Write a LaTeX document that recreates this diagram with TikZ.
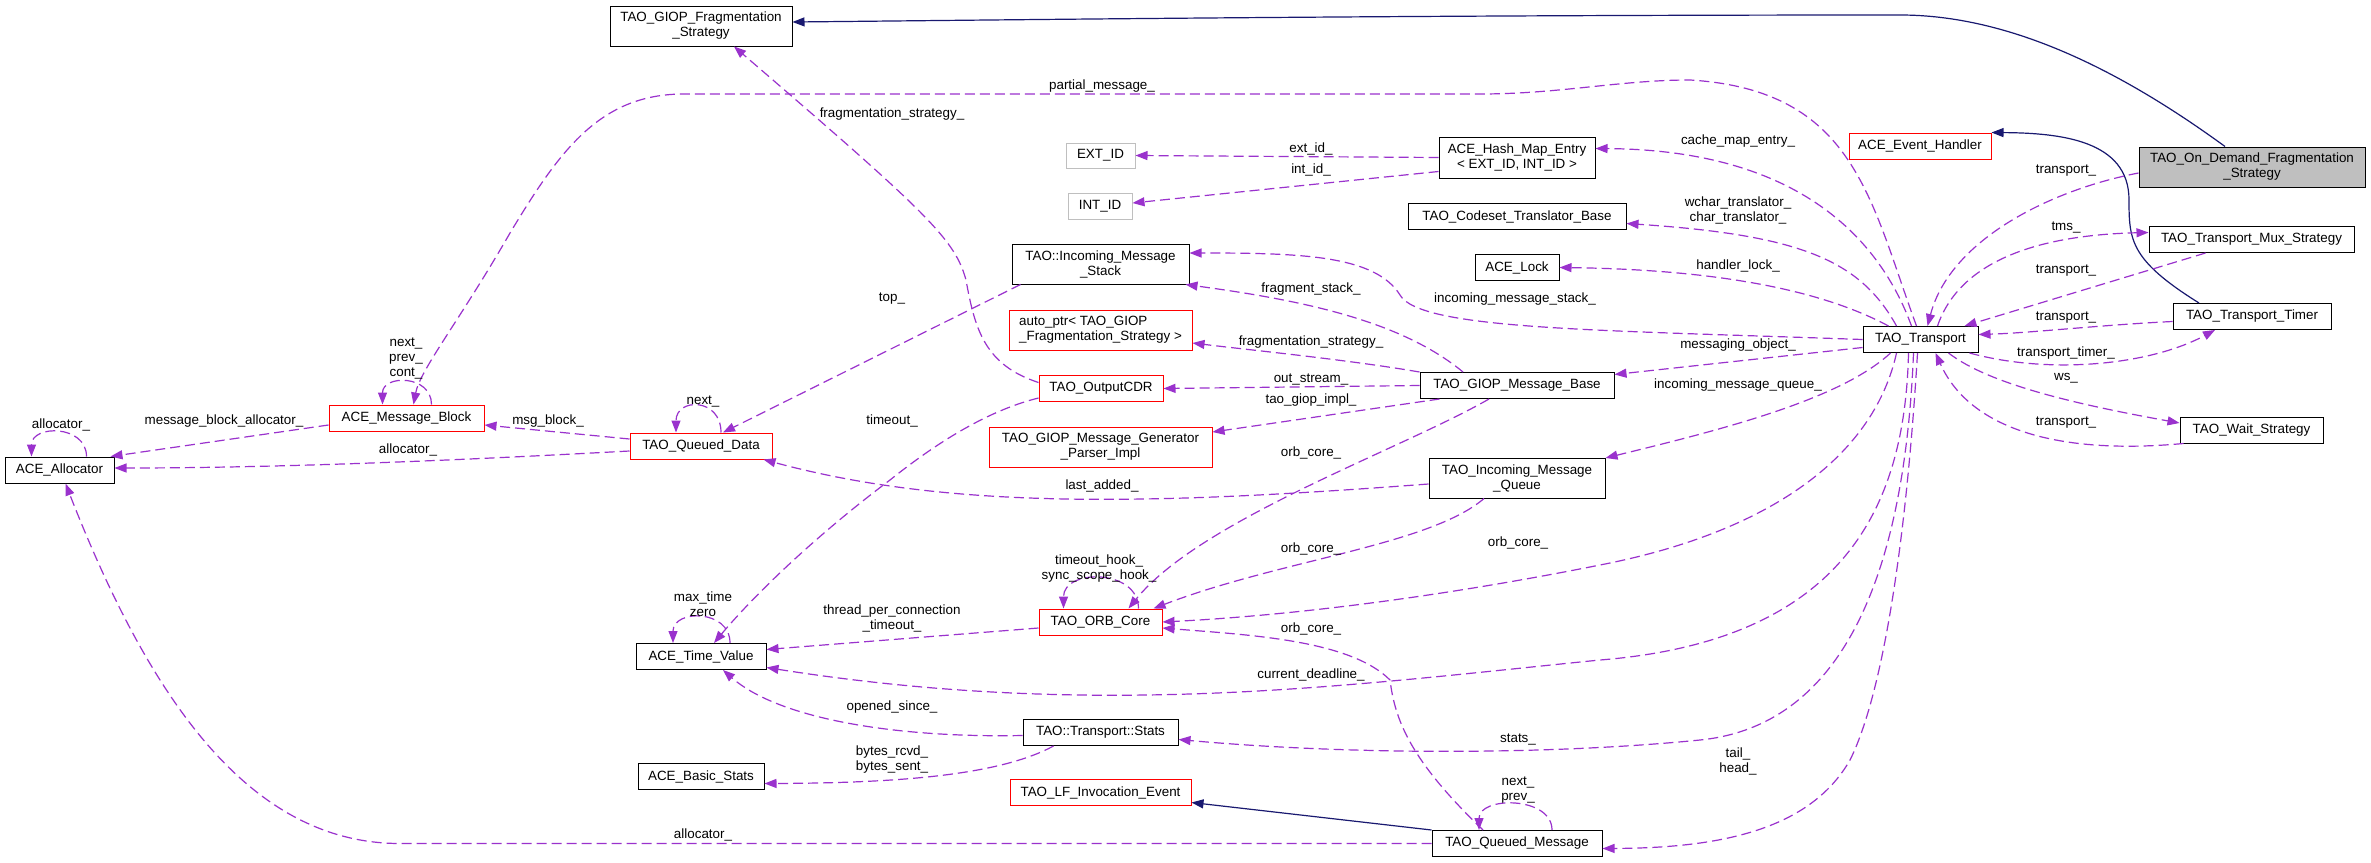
\documentclass[tikz,border=0pt]{standalone}
\usepackage{fontspec}
\setmainfont{Liberation Sans}
\usetikzlibrary{arrows.meta}

\definecolor{usecol}{HTML}{9A32CD}
\definecolor{inhcol}{HTML}{191970}
\newcommand\dxfont{\fontsize{13.4pt}{15pt}\selectfont}

\tikzset{
  cls/.style={draw=black, fill=white, line width=1pt, font=\dxfont, align=center,
    inner sep=0pt, minimum height=26pt},
  redcls/.style={cls, draw=red},
  extcls/.style={cls, draw=gray!50},
  maincls/.style={cls, fill=gray!50},
  dep/.style={draw=usecol, line width=1.2pt, dash pattern=on 10pt off 5pt,
    -{Triangle[length=12pt,width=9pt]}},
  inh/.style={draw=inhcol, line width=1.2pt, -{Triangle[length=12pt,width=9pt]}},
  lbl/.style={font=\dxfont, align=center, inner sep=0pt},
}

\begin{document}
\begin{tikzpicture}[x=1pt, y=-1pt]
    \path[use as bounding box, fill=white] (0,0) rectangle (2371,862);

    % classes
    \node[cls, minimum width=182pt, minimum height=40pt] (gfs) at (701,26) {TAO\_GIOP\_Fragmentation\\\_Strategy};
    \node[maincls, minimum width=226pt, minimum height=40pt] (odfs) at (2252,167) {TAO\_On\_Demand\_Fragmentation\\\_Strategy};
    \node[redcls, minimum width=142pt] (aeh) at (1920,146) {ACE\_Event\_Handler};
    \node[extcls, minimum width=69pt, minimum height=25pt] (extid) at (1100.5,155.5) {EXT\_ID};
    \node[extcls, minimum width=64pt] (intid) at (1100,206) {INT\_ID};
    \node[cls, minimum width=156pt, minimum height=41pt] (hme) at (1517,157.5) {ACE\_Hash\_Map\_Entry\\< EXT\_ID, INT\_ID >};
    \node[cls, minimum width=218pt] (ctb) at (1517,216.5) {TAO\_Codeset\_Translator\_Base};
    \node[cls, minimum width=84pt] (lock) at (1517,267.5) {ACE\_Lock};
    \node[cls, minimum width=177pt, minimum height=40pt] (ims) at (1100.5,264) {TAO::Incoming\_Message\\\_Stack};
    \node[redcls, minimum width=183pt, minimum height=40pt, align=left] (aptr) at (1100.5,330) {auto\_ptr< TAO\_GIOP\\\_Fragmentation\_Strategy >};
    \node[redcls, minimum width=124pt] (ocdr) at (1101,388.5) {TAO\_OutputCDR};
    \node[redcls, minimum width=223pt, minimum height=40pt] (gmgp) at (1100.5,447) {TAO\_GIOP\_Message\_Generator\\\_Parser\_Impl};
    \node[cls, minimum width=194pt] (gmb) at (1517,385.5) {TAO\_GIOP\_Message\_Base};
    \node[cls, minimum width=176pt, minimum height=40pt] (imq) at (1517,478) {TAO\_Incoming\_Message\\\_Queue};
    \node[cls, minimum width=115pt] (trans) at (1920.5,339.5) {TAO\_Transport};
    \node[cls, minimum width=205pt] (tms) at (2251.5,239.5) {TAO\_Transport\_Mux\_Strategy};
    \node[cls, minimum width=158pt] (ttimer) at (2252,316.5) {TAO\_Transport\_Timer};
    \node[cls, minimum width=143pt] (tws) at (2251.5,430) {TAO\_Wait\_Strategy};
    \node[redcls, minimum width=155pt] (amb) at (406.5,418) {ACE\_Message\_Block};
    \node[redcls, minimum width=142pt] (tqd) at (701,446) {TAO\_Queued\_Data};
    \node[cls, minimum width=109pt] (alloc) at (59.5,470) {ACE\_Allocator};
    \node[cls, minimum width=130pt] (atv) at (701,656.5) {ACE\_Time\_Value};
    \node[cls, minimum width=126pt] (basic) at (701,776.5) {ACE\_Basic\_Stats};
    \node[redcls, minimum width=123pt] (orb) at (1100.5,622) {TAO\_ORB\_Core};
    \node[cls, minimum width=155pt] (tstats) at (1100.5,732.5) {TAO::Transport::Stats};
    \node[redcls, minimum width=181pt] (lfie) at (1100.5,792.5) {TAO\_LF\_Invocation\_Event};
    \node[cls, minimum width=170pt] (tqm) at (1517,843.5) {TAO\_Queued\_Message};

    % inheritance
    \draw[inh] ([xshift=-27pt]odfs.north) .. controls (2120,70) and (2010,15) .. (1900,15)
        .. controls (1400,15) and (1000,20) .. ([yshift=4pt]gfs.east);
    \draw[inh] ([xshift=-53pt]ttimer.north) .. controls (2130,260) and (2129,240) .. (2129,200)
        .. controls (2129,140) and (2060,133) .. (aeh.north east);
    \draw[inh] (tqm.north west) -- ([yshift=-10pt]lfie.east);

    % usage, left part
    \draw[dep] ([xshift=-4pt]trans.north) .. controls (1870,200) and (1855,90) .. (1690,80)
        .. controls (1620,80) and (1560,94) .. (1480,94) -- (684,94)
        .. controls (600,94) and (560,150) .. (510,233)
        .. controls (460,320) and (420,370) .. ([xshift=7pt]amb.north);
    \draw[dep] ([yshift=6pt]ocdr.west) .. controls (985,365) and (975,330) .. (966,280)
        .. controls (955,240) and (930,215) .. ([xshift=33pt]gfs.south);
    \draw[dep] (hme.west) -- (extid.east);
    \draw[dep] ([yshift=-14pt]hme.west) -- ([yshift=3pt]intid.east);
    \draw[dep] ([xshift=9pt]ims.south west) -- ([xshift=22pt]tqd.north);
    \draw[dep] ([xshift=20pt]tqd.north) .. controls +(0,-35) and +(0,-35) .. ([xshift=-25pt]tqd.north);
    \draw[dep] ([xshift=25pt]amb.north) .. controls +(0,-30) and +(0,-30) .. ([xshift=-24pt]amb.north);
    \draw[dep] ([xshift=27pt]alloc.north) .. controls +(0,-32) and +(0,-32) .. ([xshift=-28pt]alloc.north);
    \draw[dep] ([yshift=-7pt]amb.west) -- ([xshift=-4pt]alloc.north east);
    \draw[dep] ([yshift=7pt]tqd.west) -- ([yshift=-7pt]amb.east);
    \draw[dep] ([yshift=-5pt]tqd.west) .. controls (500,458) and (300,468) .. ([yshift=2pt]alloc.east);
    \draw[dep] ([yshift=-6pt]imq.west) .. controls (1150,505) and (950,510) .. ([xshift=-9pt]tqd.south east);
    \draw[dep] ([yshift=4pt]ocdr.south west) .. controls (990,410) and (940,440) .. (890,480)
        .. controls (810,540) and (750,600) .. ([xshift=13pt]atv.north);
    \draw[dep] ([xshift=29pt]atv.north) .. controls +(0,-34) and +(0,-34) .. ([xshift=-28pt]atv.north);
    \draw[dep] ([yshift=-6pt]orb.west) -- ([yshift=7pt]atv.east);
    \draw[dep] ([yshift=-3pt]tstats.west) .. controls (900,738) and (780,720) .. ([xshift=22pt]atv.south);
    \draw[dep] ([xshift=-47pt]tstats.south) .. controls (1000,775) and (900,783) .. ([yshift=-7pt]basic.east);
    \draw[dep] ([xshift=38pt]orb.north) .. controls +(0,-40) and +(0,-40) .. ([xshift=-37pt]orb.north);
    \draw[dep] ([xshift=-28pt]gmb.south) .. controls (1400,450) and (1200,520) .. ([xshift=28pt]orb.north);
    \draw[dep] ([xshift=-33pt]imq.south) .. controls (1430,545) and (1280,560) .. ([xshift=-9pt]orb.north east);
    \draw[dep] ([xshift=-34pt]tqm.north) .. controls (1410,760) and (1395,720) .. (1390,680)
        .. controls (1350,640) and (1250,635) .. ([yshift=-6pt]orb.east);
    \draw[dep] (tqm.west) -- (400,843.5) .. controls (250,843.5) and (150,700) .. ([xshift=6pt]alloc.south);
    \draw[dep] ([xshift=35pt]tqm.north) .. controls +(0,-34) and +(0,-34) .. ([xshift=-38pt]tqm.north);

    % usage, from TAO_Transport
    \draw[dep] ([xshift=-9pt]trans.north) .. controls (1880,240) and (1800,150) .. ([yshift=9pt]hme.east);
    \draw[dep] ([xshift=-24pt]trans.north) .. controls (1860,260) and (1800,235) .. ([yshift=-7pt]ctb.east);
    \draw[dep] ([xshift=-32pt]trans.north) .. controls (1840,300) and (1750,270) .. (lock.east);
    \draw[dep] (trans.west) .. controls (1600,330) and (1420,330) .. (1400,295)
        .. controls (1375,255) and (1300,253) .. ([yshift=11pt]ims.east);
    \draw[dep] ([yshift=-8pt]trans.west) -- ([yshift=11pt]gmb.east);
    \draw[dep] ([xshift=-30pt]trans.south) .. controls (1840,400) and (1720,430) .. ([yshift=20pt]imq.east);
    \draw[dep] ([xshift=-24pt]trans.south) .. controls (1875,450) and (1780,530) .. (1600,565)
        .. controls (1450,595) and (1300,615) .. (orb.east);
    \draw[dep] ([xshift=-12pt]trans.south) .. controls (1905,500) and (1850,640) .. (1600,660)
        .. controls (1350,685) and (1100,720) .. ([yshift=-11pt]atv.east);
    \draw[dep] ([xshift=-7pt]trans.south) .. controls (1905,560) and (1850,725) .. (1700,740)
        .. controls (1550,755) and (1350,755) .. ([yshift=-7pt]tstats.east);
    \draw[dep] ([xshift=-3pt]trans.south) .. controls (1905,560) and (1880,700) .. (1850,760)
        .. controls (1810,830) and (1720,848) .. ([yshift=-5pt]tqm.east);

    % usage, TAO_GIOP_Message_Base
    \draw[dep] ([xshift=-54pt]gmb.north) .. controls (1400,320) and (1300,300) .. ([xshift=-4pt]ims.south east);
    \draw[dep] (gmb.north west) .. controls (1350,360) and (1250,350) .. ([yshift=-13pt]aptr.east);
    \draw[dep] (gmb.west) -- (ocdr.east);
    \draw[dep] ([xshift=20pt]gmb.south west) -- ([yshift=15pt]gmgp.east);

    % usage, right part
    \draw[dep] ([yshift=-6pt]odfs.west) .. controls (2050,190) and (1950,240) .. ([xshift=7pt]trans.north);
    \draw[dep] ([xshift=17pt]trans.north) .. controls (1960,260) and (2040,235) .. ([yshift=7pt]tms.west);
    \draw[dep] ([xshift=-46pt]tms.south) -- ([xshift=-14pt]trans.north east);
    \draw[dep] ([yshift=-5pt]ttimer.west) .. controls (2100,325) and (2030,333) .. ([yshift=5pt]trans.east);
    \draw[dep] ([xshift=-9pt]trans.south east) .. controls (2050,375) and (2150,365) .. ([xshift=-37pt]ttimer.south);
    \draw[dep] ([xshift=28pt]trans.south) .. controls (1990,385) and (2080,405) .. ([yshift=7pt]tws.west);
    \draw[dep] ([xshift=4pt]tws.south west) .. controls (2060,455) and (1970,430) .. ([xshift=15pt]trans.south);

    % labels
    \node[lbl] (l-partial) at (1102,86) {partial\_message\_};
    \node[lbl] (l-fragstrat) at (892,114) {fragmentation\_strategy\_};
    \node[lbl] (l-extid) at (1311,149) {ext\_id\_};
    \node[lbl] (l-intid) at (1311,170) {int\_id\_};
    \node[lbl] (l-top) at (892,299) {top\_};
    \node[lbl] (l-qdnext) at (703,401) {next\_};
    \node[lbl] (l-mbloop) at (406,358) {next\_\\prev\_\\cont\_};
    \node[lbl] (l-allocloop) at (61,425) {allocator\_};
    \node[lbl] (l-mballoc) at (224,421) {message\_block\_allocator\_};
    \node[lbl] (l-msgblock) at (548,421) {msg\_block\_};
    \node[lbl] (l-qdalloc) at (408,450) {allocator\_};
    \node[lbl] (l-lastadded) at (1102,486) {last\_added\_};
    \node[lbl] (l-timeout) at (892,421) {timeout\_};
    \node[lbl] (l-tvloop) at (703,604) {max\_time\\zero};
    \node[lbl] (l-tpct) at (892,618) {thread\_per\_connection\\\_timeout\_};
    \node[lbl] (l-deadline) at (1311,675) {current\_deadline\_};
    \node[lbl] (l-opened) at (892,707) {opened\_since\_};
    \node[lbl] (l-bytes) at (892,760) {bytes\_rcvd\_\\bytes\_sent\_};
    \node[lbl] (l-orbloop) at (1099,569) {timeout\_hook\_\\sync\_scope\_hook\_};
    \node[lbl] (l-orbgmb) at (1311,453) {orb\_core\_};
    \node[lbl] (l-orbimq) at (1311,549) {orb\_core\_};
    \node[lbl] (l-orbtrans) at (1518,543) {orb\_core\_};
    \node[lbl] (l-orbtqm) at (1311,629) {orb\_core\_};
    \node[lbl] (l-stats) at (1518,739) {stats\_};
    \node[lbl] (l-qmalloc) at (703,835) {allocator\_};
    \node[lbl] (l-qmloop) at (1518,790) {next\_\\prev\_};
    \node[lbl] (l-tailhead) at (1738,761) {tail\_\\head\_};
    \node[lbl] (l-cache) at (1738,141) {cache\_map\_entry\_};
    \node[lbl] (l-transl) at (1738,210) {wchar\_translator\_\\char\_translator\_};
    \node[lbl] (l-hlock) at (1738,266) {handler\_lock\_};
    \node[lbl] (l-imstack) at (1515,299) {incoming\_message\_stack\_};
    \node[lbl] (l-fstack) at (1311,289) {fragment\_stack\_};
    \node[lbl] (l-gmbfrag) at (1311,342) {fragmentation\_strategy\_};
    \node[lbl] (l-outstream) at (1311,379) {out\_stream\_};
    \node[lbl] (l-giopimpl) at (1311,400) {tao\_giop\_impl\_};
    \node[lbl] (l-msgobj) at (1738,345) {messaging\_object\_};
    \node[lbl] (l-imqueue) at (1738,385) {incoming\_message\_queue\_};
    \node[lbl] (l-odfstr) at (2066,171) {transport\_};
    \node[lbl] (l-tms) at (2066,227) {tms\_};
    \node[lbl] (l-tmstr) at (2066,271) {transport\_};
    \node[lbl] (l-timertr) at (2066,318) {transport\_};
    \node[lbl] (l-trtimer) at (2066,353) {transport\_timer\_};
    \node[lbl] (l-ws) at (2066,378) {ws\_};
    \node[lbl] (l-waittr) at (2066,423) {transport\_};
  \end{tikzpicture}
\end{document}
